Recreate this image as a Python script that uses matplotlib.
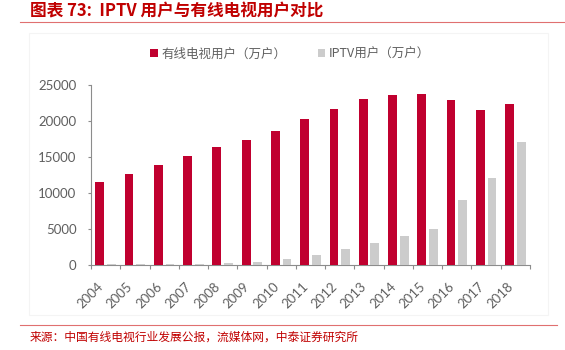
import matplotlib
matplotlib.use("Agg")
import matplotlib.pyplot as plt
import numpy as np
from matplotlib.lines import Line2D
from matplotlib.patches import Rectangle

plt.rcParams['font.family'] = ['Noto Sans CJK SC', 'DejaVu Sans']

years = ["2004", "2005", "2006", "2007", "2008", "2009", "2010", "2011",
         "2012", "2013", "2014", "2015", "2016", "2017", "2018"]
cable = [11500, 12600, 13850, 15100, 16300, 17400, 18600, 20200,
         21600, 23000, 23550, 23700, 22850, 21500, 22300]
iptv = [150, 150, 150, 150, 320, 460, 880, 1390,
        2220, 3060, 4030, 5000, 9030, 12080, 17080]

red = '#c0002f'
gray_bar = '#cccccc'
txt = '#5f5f5f'
axis_col = '#8c8c8c'

fig = plt.figure(figsize=(5.65, 3.5), dpi=100)
fig.patch.set_facecolor('white')

# light panel behind the chart
fig.add_artist(Rectangle((29/565, 1-315/350), (548-29)/565, (315-33)/350,
                         transform=fig.transFigure, facecolor='white',
                         edgecolor='#f4f4f4', lw=0.8, zorder=0))

ax = fig.add_axes([91/565, 1-265/350, (530-91)/565, (265-84.7)/350])
x = np.arange(len(years))
w = 0.3
ax.bar(x - 0.2, cable, w, color=red, label='有线电视用户（万户）', zorder=3)
ax.bar(x + 0.2, iptv, w, color=gray_bar, label='IPTV用户（万户）', zorder=3)

ax.set_xlim(-0.5, len(years) - 0.5)
ax.set_ylim(0, 25000)
ax.set_yticks(np.arange(0, 25001, 5000))
ax.set_xticks(x)
ax.set_xticklabels(years, rotation=45, ha='right', va='top')
ax.set_xticks(np.arange(-0.5, len(years), 1), minor=True)
ax.tick_params(axis='x', which='major', length=0, pad=11, labelsize=9.5, labelcolor=txt)
ax.tick_params(axis='x', which='minor', length=3, width=0.8, color=axis_col)
ax.tick_params(axis='y', length=2.5, width=0.8, color=axis_col, pad=8,
               labelsize=9.5, labelcolor=txt)
for lab in ax.get_xticklabels() + ax.get_yticklabels():
    lab.set_family(['Lato', 'DejaVu Sans'])

for s in ['top', 'right']:
    ax.spines[s].set_visible(False)
for s in ['left', 'bottom']:
    ax.spines[s].set_color(axis_col)
    ax.spines[s].set_linewidth(0.8)

leg = ax.legend(loc='center', bbox_to_anchor=(290/565, 1-54/350),
                bbox_transform=fig.transFigure, ncol=2, frameon=False,
                fontsize=9, handlelength=0.6, handleheight=0.6,
                handletextpad=0.3, columnspacing=2.5)
for t in leg.get_texts():
    t.set_color(txt)

# title and lines
fig.text(30/565, 1-12/350, '图表 73:  IPTV 用户与有线电视用户对比', color='#c00000',
         fontsize=12, fontweight='bold', ha='left', va='center')
fig.add_artist(Line2D([20/565, 1], [1-22/350, 1-22/350], color='#e07070',
                      lw=0.8, transform=fig.transFigure))
fig.add_artist(Line2D([20/565, 557/565], [1-325/350, 1-325/350], color='#e07070',
                      lw=0.8, transform=fig.transFigure))
fig.text(30/565, 1-337/350, '来源：中国有线电视行业发展公报，流媒体网，中泰证券研究所',
         color='#c00000', fontsize=8.5, ha='left', va='center')

fig.savefig('out.png', dpi=100)
